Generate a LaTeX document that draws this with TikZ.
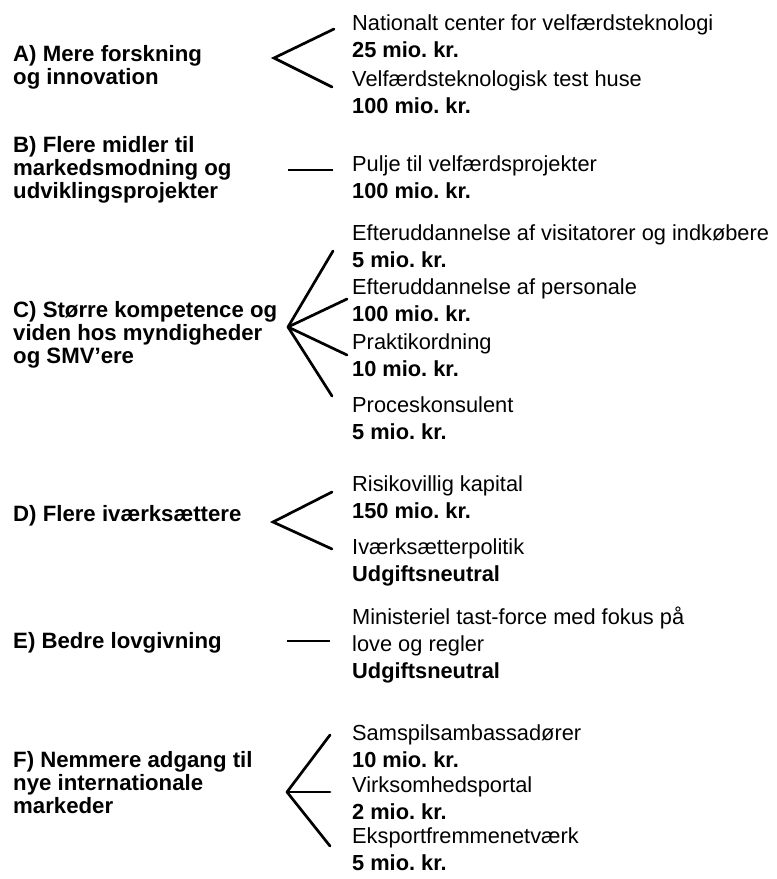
\documentclass[tikz,border=0pt]{standalone}
\usepackage{fontspec}
\setmainfont{Liberation Sans}
\usetikzlibrary{positioning}
\frenchspacing
\tikzset{
  goal/.style    = {anchor=west, inner sep=0pt, align=left,
                    font=\fontsize{22.2}{23}\selectfont\bfseries},
  measure/.style = {anchor=west, inner sep=0pt, align=left,
                    font=\fontsize{21.8}{27}\selectfont},
  branch/.style  = {line width=2.7pt, line cap=round},
  stub/.style    = {line width=2.4pt},
}

\begin{document}
\begin{tikzpicture}[x=1pt, y=-1pt]
\useasboundingbox (0,0) rectangle (777,879);

% initiativer (venstre kolonne)
\node[goal] (A) at (13,67) {A) Mere forskning\\og innovation};
\node[goal] (B) at (13,170) {B) Flere midler til\\markedsmodning og\\udviklingsprojekter};
\node[goal] (C) at (13,335) {C) Større kompetence og\\viden hos myndigheder\\og SMV'ere};
\node[goal] (D) at (13,516) {D) Flere iværksættere};
\node[goal] (E) at (13,643) {E) Bedre lovgivning};
\node[goal] (F) at (13,783) {F) Nemmere adgang til\\nye internationale\\markeder};

% tiltag og beløb (højre kolonne)
\node[measure] (a1) at (352,36) {Nationalt center for velfærdsteknologi\\\textbf{25 mio. kr.}};
\node[measure] (a2) at (352,92) {Velfærdsteknologisk test huse\\\textbf{100 mio. kr.}};
\node[measure] (b1) at (352,177) {Pulje til velfærdsprojekter\\\textbf{100 mio. kr.}};
\node[measure] (c1) at (352,246) {Efteruddannelse af visitatorer og indkøbere\\\textbf{5 mio. kr.}};
\node[measure] (c2) at (352,300) {Efteruddannelse af personale\\\textbf{100 mio. kr.}};
\node[measure] (c3) at (352,355) {Praktikordning\\\textbf{10 mio. kr.}};
\node[measure] (c4) at (352,418) {Proceskonsulent\\\textbf{5 mio. kr.}};
\node[measure] (d1) at (352,497) {Risikovillig kapital\\\textbf{150 mio. kr.}};
\node[measure] (d2) at (352,562) {Iværksætterpolitik\\\textbf{Udgiftsneutral}};
\node[measure] (e1) at (352,645) {Ministeriel tast-force med fokus på\\love og regler\\\textbf{Udgiftsneutral}};
\node[measure] (f1) at (352,746) {Samspilsambassadører\\\textbf{10 mio. kr.}};
\node[measure] (f2) at (352,798) {Virksomhedsportal\\\textbf{2 mio. kr.}};
\node[measure] (f3) at (352,849) {Eksportfremmenetværk\\\textbf{5 mio. kr.}};

% forgreninger
\coordinate (A-tip) at (274,58);
\coordinate (A-up)  at (334,29);
\coordinate (A-dn)  at (332,87);
\draw[branch] (A-up) -- (A-tip) -- (A-dn);

\coordinate (B-l) at (288,170);
\coordinate (B-r) at (333,170);
\draw[stub] (B-l) -- (B-r);

\coordinate (C-tip) at (288,327);
\coordinate (C-1) at (333,251);
\coordinate (C-2) at (347,299);
\coordinate (C-3) at (347,355);
\coordinate (C-4) at (332,396);
\draw[branch] (C-tip) -- (C-1);
\draw[branch] (C-tip) -- (C-2);
\draw[branch] (C-tip) -- (C-3);
\draw[branch] (C-tip) -- (C-4);

\coordinate (D-tip) at (273,522);
\coordinate (D-up)  at (332,492);
\coordinate (D-dn)  at (332,549);
\draw[branch] (D-up) -- (D-tip) -- (D-dn);

\coordinate (E-l) at (287,641);
\coordinate (E-r) at (330,641);
\draw[stub, line width=1.7pt] (E-l) -- (E-r);

\coordinate (F-tip) at (287,792);
\coordinate (F-1) at (330,735);
\coordinate (F-2) at (330,792);
\coordinate (F-3) at (330,846);
\draw[branch] (F-tip) -- (F-1);
\draw[branch] (F-tip) -- (F-2);
\draw[branch] (F-tip) -- (F-3);

\end{tikzpicture}
\end{document}
